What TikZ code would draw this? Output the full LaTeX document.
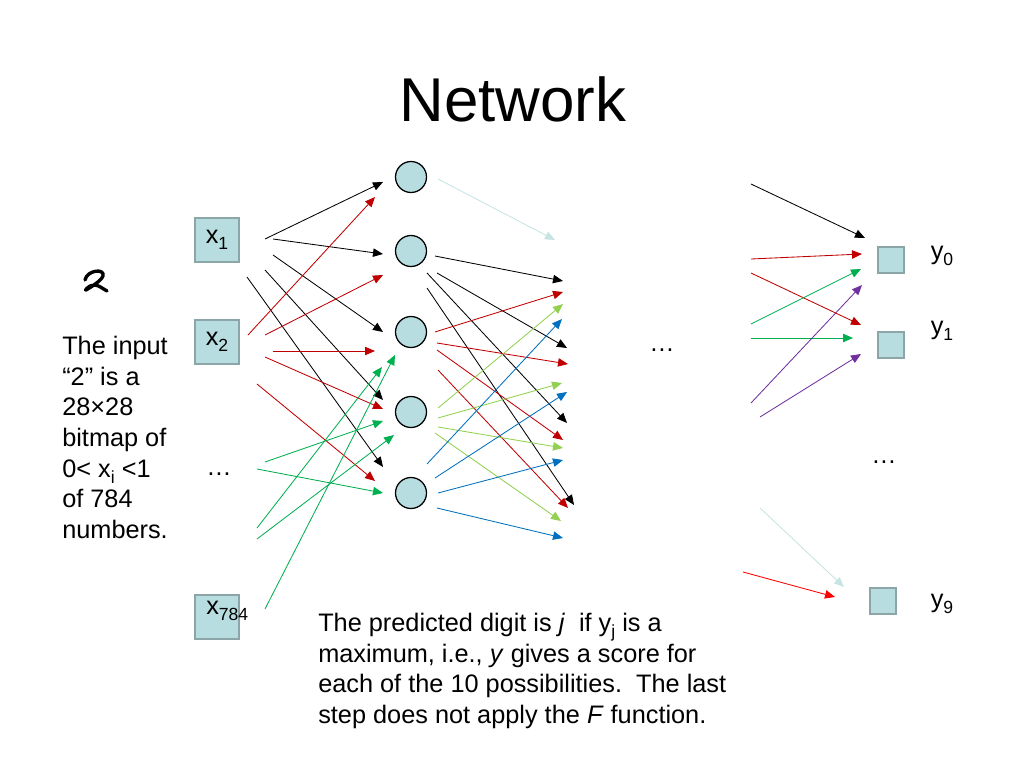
\documentclass[tikz,border=0pt]{standalone}
\usepackage{fontspec}
\setmainfont{Liberation Sans}
\usetikzlibrary{arrows.meta}
\definecolor{nnfill}{RGB}{183,221,224}
\definecolor{nnedge}{RGB}{140,165,168}
\definecolor{dkred}{RGB}{192,0,0}
\definecolor{brred}{RGB}{255,0,0}
\definecolor{nngrn}{RGB}{0,176,80}
\definecolor{nnylg}{RGB}{146,208,80}
\definecolor{nnblu}{RGB}{0,112,192}
\definecolor{nnpur}{RGB}{112,48,160}
\definecolor{nnpal}{RGB}{198,228,226}
\tikzset{nnin/.style={inner sep=0pt, minimum size=11mm, draw=nnedge, fill=nnfill, line width=0.9pt}}
\tikzset{nnhid/.style={inner sep=0pt, circle, minimum size=7.75mm, draw=black, fill=nnfill, line width=0.9pt}}
\tikzset{nnout/.style={inner sep=0pt, minimum size=6.5mm, draw=nnedge, fill=nnfill, line width=0.9pt}}
\tikzset{wt/.style={line width=0.6pt, -{Triangle[length=2.5mm, width=2.1mm]}}}
\tikzset{txt/.style={inner sep=0pt, font=\fontsize{18}{21.8}\selectfont}}
\newcommand{\nnsub}[1]{\raisebox{-0.25em}{\fontsize{12.5}{12.5}\selectfont #1}}

\begin{document}
\begin{tikzpicture}[x=0.25mm, y=-0.25mm]
    \useasboundingbox (0,0) rectangle (1024,768);

    \node[inner sep=0pt, font=\fontsize{44}{50}\selectfont] (title) at (513,99) {Network};

    % input layer
    \node[nnin, txt] (in1) at (217,240) {x\nnsub{1}};
    \node[nnin, txt] (in2) at (217,342) {x\nnsub{2}};
    \node[txt] (indots) at (219,474) {\ldots};
    \node[nnin] (in784) at (217,617) {};
    \node[txt, anchor=west] (lab784) at (206,611) {x\nnsub{784}};

    % hidden layer
    \node[nnhid] (h1) at (411,177) {};
    \node[nnhid] (h2) at (411,251) {};
    \node[nnhid] (h3) at (411,332) {};
    \node[nnhid] (h4) at (411,412) {};
    \node[nnhid] (h5) at (411,493) {};
    \node[txt] (middots) at (662,350) {\ldots};

    % output layer
    \node[nnout] (out0) at (891,260) {};
    \node[nnout] (out1) at (891,345) {};
    \node[txt] (outdots) at (884,462) {\ldots};
    \node[nnout] (out9) at (883,601) {};
    \node[txt] (y0) at (942,256) {y\nnsub{0}};
    \node[txt] (y1) at (942,331) {y\nnsub{1}};
    \node[txt] (y9) at (942,604) {y\nnsub{9}};

    % the digit
    \draw[line width=2.4pt, line cap=round, line join=round]
        (85,280) .. controls (87,270) and (105,268) .. (103,276)
        .. controls (101,281) and (91,287) .. (86,290)
        .. controls (84,292) and (88,285) .. (94,285)
        .. controls (99,285) and (103,289) .. (107,291);

    \node[txt, anchor=north west, align=left] (intext) at (62,336)
        {The input\\“2” is a\\28×28\\bitmap of\\0< x\nnsub{i} <1\\of 784\\numbers.};
    \node[txt, anchor=north west, align=left] (outtext) at (318,613)
        {The predicted digit is \textit{j}\ \ if y\nnsub{j} is a\\
         maximum, i.e., \textit{y} gives a score for\\
         each of the 10 possibilities.\ \ The last\\
         step does not apply the \textit{F} function.};

    % input to hidden
    \draw
    (265,239) edge[wt, black] (383,182)
    (273,239) edge[wt, black] (383,254)
    (273,255) edge[wt, black] (383,332)
    (265,270) edge[wt, black] (383,400)
    (247,277) edge[wt, black] (383,467)
    (248,335) edge[wt, dkred] (375,197)
    (265,335) edge[wt, dkred] (383,275)
    (273,351) edge[wt, dkred] (375,351)
    (265,357) edge[wt, dkred] (383,409)
    (257,384) edge[wt, dkred] (375,481)
    (265,462) edge[wt, nngrn] (383,421)
    (257,469) edge[wt, nngrn] (383,493)
    (257,528) edge[wt, nngrn] (382,367)
    (257,539) edge[wt, nngrn] (394,435)
    (265,609) edge[wt, nngrn] (395,355);

    % hidden to next layer
    \draw
    (438,179) edge[wt, nnpal] (555,240)
    (435,256) edge[wt, black] (563,281)
    (437,273) edge[wt, black] (567,348)
    (427,273) edge[wt, black] (567,423)
    (427,288) edge[wt, black] (574,505)
    (435,332) edge[wt, dkred] (563,292)
    (437,343) edge[wt, dkred] (568,364)
    (437,350) edge[wt, dkred] (563,440)
    (438,370) edge[wt, dkred] (568,508)
    (438,408) edge[wt, nnylg] (563,304)
    (438,418) edge[wt, nnylg] (562,383)
    (438,427) edge[wt, nnylg] (563,448)
    (435,433) edge[wt, nnylg] (561,521)
    (427,464) edge[wt, nnblu] (562,319)
    (435,478) edge[wt, nnblu] (567,392)
    (438,493) edge[wt, nnblu] (563,460)
    (437,508) edge[wt, nnblu] (563,538);

    % into the outputs
    \draw
    (751,184) edge[wt, black] (865,238)
    (751,259) edge[wt, dkred] (862,254)
    (751,273) edge[wt, dkred] (861,325)
    (751,324) edge[wt, nngrn] (861,269)
    (751,338) edge[wt, nngrn] (853,338)
    (751,403) edge[wt, nnpur] (862,285)
    (760,417) edge[wt, nnpur] (861,354)
    (760,508) edge[wt, nnpal] (844,587)
    (743,572) edge[wt, brred] (835,597);
\end{tikzpicture}
\end{document}
